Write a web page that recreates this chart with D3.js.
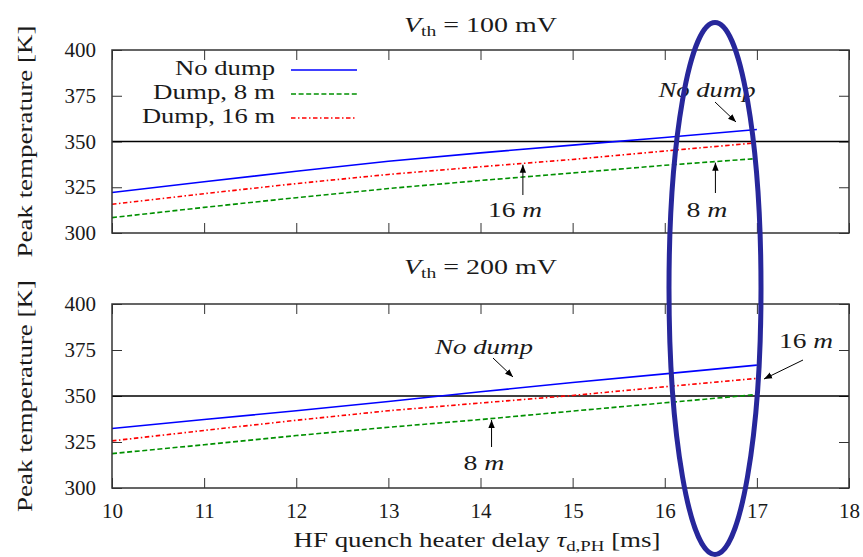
<!DOCTYPE html>
<html>
<head>
<meta charset="utf-8">
<script src="https://cdn.jsdelivr.net/npm/d3@7"></script>
<style>
  body { margin: 0; background: #fff; }
</style>
</head>
<body>
<script>
// delays in ms
const delays = [10, 11, 12, 13, 14, 15, 16, 17];

// V_th = 100 mV
const topNoDump = [322.1, 328.0, 333.7, 339.2, 343.8, 348.0, 352.2, 356.6];
const topDump8  = [308.4, 314.0, 319.3, 324.3, 328.7, 332.8, 337.0, 340.7];
const topDump16 = [315.7, 321.5, 327.0, 332.0, 336.2, 340.2, 344.8, 349.3];

// V_th = 200 mV
const botNoDump = [332.3, 337.2, 342.0, 347.0, 352.3, 357.3, 362.0, 366.8];
const botDump8  = [318.7, 323.5, 328.5, 333.0, 337.2, 341.8, 346.3, 350.8];
const botDump16 = [325.6, 331.3, 336.8, 342.0, 346.2, 350.3, 355.0, 359.6];

const xTicks = [10, 11, 12, 13, 14, 15, 16, 17, 18];
const yTicks = [300, 325, 350, 375, 400];
const limit = 350;

const seriesNames = ["No dump", "Dump, 8 m", "Dump, 16 m"];

const FONT = "Liberation Serif";
const FS = 20;
const w = 863, h = 557;
const left = 112, right = 849;

const x = d3.scaleLinear().domain([10, 18]).range([left, right]);

const panels = [
  { title: "100", titleY: 32, y: d3.scaleLinear().domain([300, 400]).range([233, 50]),
    series: [topNoDump, topDump8, topDump16], labels: false },
  { title: "200", titleY: 274, y: d3.scaleLinear().domain([300, 400]).range([488, 304]),
    series: [botNoDump, botDump8, botDump16], labels: true }
];

const styles = [
  { color: "#0000ff", dash: null },
  { color: "#009000", dash: "5,2.6" },
  { color: "#ff0000", dash: "4.5,2.5,1.5,2.5" }
];

const svg = d3.select("body").append("svg")
  .attr("width", w)
  .attr("height", h)
  .attr("font-family", FONT)
  .attr("fill", "#1a1a1a");

// arrow head
svg.append("defs").append("marker")
  .attr("id", "arr")
  .attr("viewBox", "0 0 10 10")
  .attr("refX", 10).attr("refY", 5)
  .attr("markerWidth", 8).attr("markerHeight", 8)
  .attr("markerUnits", "userSpaceOnUse")
  .attr("orient", "auto")
  .append("path")
  .attr("d", "M0,1 L10,5 L0,9 Z")
  .attr("fill", "#000");

const line = (ys, y) => d3.line()
  .x(d => x(d))
  .y((d, i) => y(ys[i]))(delays);

panels.forEach(p => {
  const y = p.y;
  const g = svg.append("g");
  const y0 = y.range()[1], y1 = y.range()[0];

  // title
  const t = g.append("text")
    .attr("x", (left + right) / 2)
    .attr("y", p.titleY)
    .attr("text-anchor", "middle")
    .attr("font-size", FS)
    .attr("textLength", 153)
    .attr("lengthAdjust", "spacingAndGlyphs");
  t.append("tspan").attr("font-style", "italic").text("V");
  t.append("tspan").attr("font-size", 14).attr("dy", 4).text("th");
  t.append("tspan").attr("dy", -4).text(" = " + p.title + " mV");

  // y label
  g.append("text")
    .attr("transform", `translate(32,${(y0 + y1) / 2}) rotate(-90)`)
    .attr("text-anchor", "middle")
    .attr("font-size", 21)
    .attr("textLength", 232)
    .attr("lengthAdjust", "spacingAndGlyphs")
    .text("Peak temperature [K]");

  // axes, ticks pointing inwards on all four sides
  g.append("g")
    .attr("transform", `translate(${left},0)`)
    .call(d3.axisLeft(y).tickValues(yTicks).tickSizeInner(-10).tickSizeOuter(0).tickPadding(16));
  g.append("g")
    .attr("transform", `translate(${right},0)`)
    .call(d3.axisRight(y).tickValues(yTicks).tickSizeInner(-10).tickSizeOuter(0).tickFormat(""));
  g.append("g")
    .attr("transform", `translate(0,${y0})`)
    .call(d3.axisTop(x).tickValues(xTicks).tickSizeInner(-10).tickSizeOuter(0).tickFormat(""));
  g.append("g")
    .attr("transform", `translate(0,${y1})`)
    .call(d3.axisBottom(x).tickValues(xTicks).tickSizeInner(-10).tickSizeOuter(0).tickPadding(15)
      .tickFormat(p.labels ? d3.format("d") : ""));
  g.selectAll(".domain").remove();
  g.selectAll(".tick line").attr("stroke", "#333");
  g.selectAll(".tick text")
    .attr("font-size", 21)
    .attr("font-family", FONT)
    .attr("fill", "#1a1a1a");

  // 350 K limit
  g.append("line")
    .attr("x1", left).attr("x2", right)
    .attr("y1", y(limit)).attr("y2", y(limit))
    .attr("stroke", "#000").attr("stroke-width", 1.5);

  // series
  p.series.forEach((s, i) => {
    g.append("path")
      .attr("d", line(s, y))
      .attr("fill", "none")
      .attr("stroke", styles[i].color)
      .attr("stroke-width", 1.6)
      .attr("stroke-dasharray", styles[i].dash);
  });

  // frame
  g.append("rect")
    .attr("x", left).attr("y", y0)
    .attr("width", right - left).attr("height", y1 - y0)
    .attr("fill", "none").attr("stroke", "#333").attr("stroke-width", 1.5);
});

// legend (top panel)
const legWidths = [100, 122, 133];
const leg = svg.append("g");
seriesNames.forEach((n, i) => {
  const ly = 70 + i * 24;
  leg.append("text")
    .attr("x", 275).attr("y", ly + 5)
    .attr("text-anchor", "end")
    .attr("font-size", FS)
    .attr("textLength", legWidths[i])
    .attr("lengthAdjust", "spacingAndGlyphs")
    .text(n);
  leg.append("line")
    .attr("x1", 291).attr("x2", 357)
    .attr("y1", ly).attr("y2", ly)
    .attr("stroke", styles[i].color)
    .attr("stroke-width", 1.6)
    .attr("stroke-dasharray", styles[i].dash);
});

// annotations
function note(parts, len, tx, ty, ax1, ay1, ax2, ay2) {
  const t = svg.append("text")
    .attr("x", tx).attr("y", ty)
    .attr("text-anchor", "middle")
    .attr("font-size", FS)
    .attr("textLength", len)
    .attr("lengthAdjust", "spacingAndGlyphs");
  parts.forEach(pt => t.append("tspan").attr("font-style", pt[1] ? "italic" : "normal").text(pt[0]));
  svg.append("line")
    .attr("x1", ax1).attr("y1", ay1).attr("x2", ax2).attr("y2", ay2)
    .attr("stroke", "#000").attr("stroke-width", 1)
    .attr("marker-end", "url(#arr)");
}
const yT = panels[0].y, yB = panels[1].y;
note([["No dump", true]], 97, 707, 97, 715, 102, 736, 122);
note([["16 ", false], ["m", true]], 54, 515, 217, x(14.46), 195, x(14.46), yT(337.9) + 1);
note([["8 ", false], ["m", true]], 41, 707, 217, x(16.55), 193, x(16.55), yT(339) + 1);
note([["No dump", true]], 98, 484, 354, 493, 358, 513, 377);
note([["16 ", false], ["m", true]], 54, 806, 348, 803, 360, 764, 379);
note([["8 ", false], ["m", true]], 41, 484, 470, x(14.12), 447, x(14.12), yB(337.5) + 1);

// x label
const xl = svg.append("text")
  .attr("x", 477)
  .attr("y", 547)
  .attr("text-anchor", "middle")
  .attr("font-size", FS)
  .attr("textLength", 367)
  .attr("lengthAdjust", "spacingAndGlyphs");
xl.append("tspan").text("HF quench heater delay ");
xl.append("tspan").attr("font-style", "italic").text("τ");
xl.append("tspan").attr("font-size", 14).attr("dy", 4).text("d,PH");
xl.append("tspan").attr("dy", -4).text(" [ms]");

// hand-drawn highlight ellipse
svg.append("ellipse")
  .attr("cx", 715).attr("cy", 288.5)
  .attr("rx", 46).attr("ry", 266)
  .attr("fill", "none")
  .attr("stroke", "#27279b")
  .attr("stroke-width", 5);
</script>
</body>
</html>
